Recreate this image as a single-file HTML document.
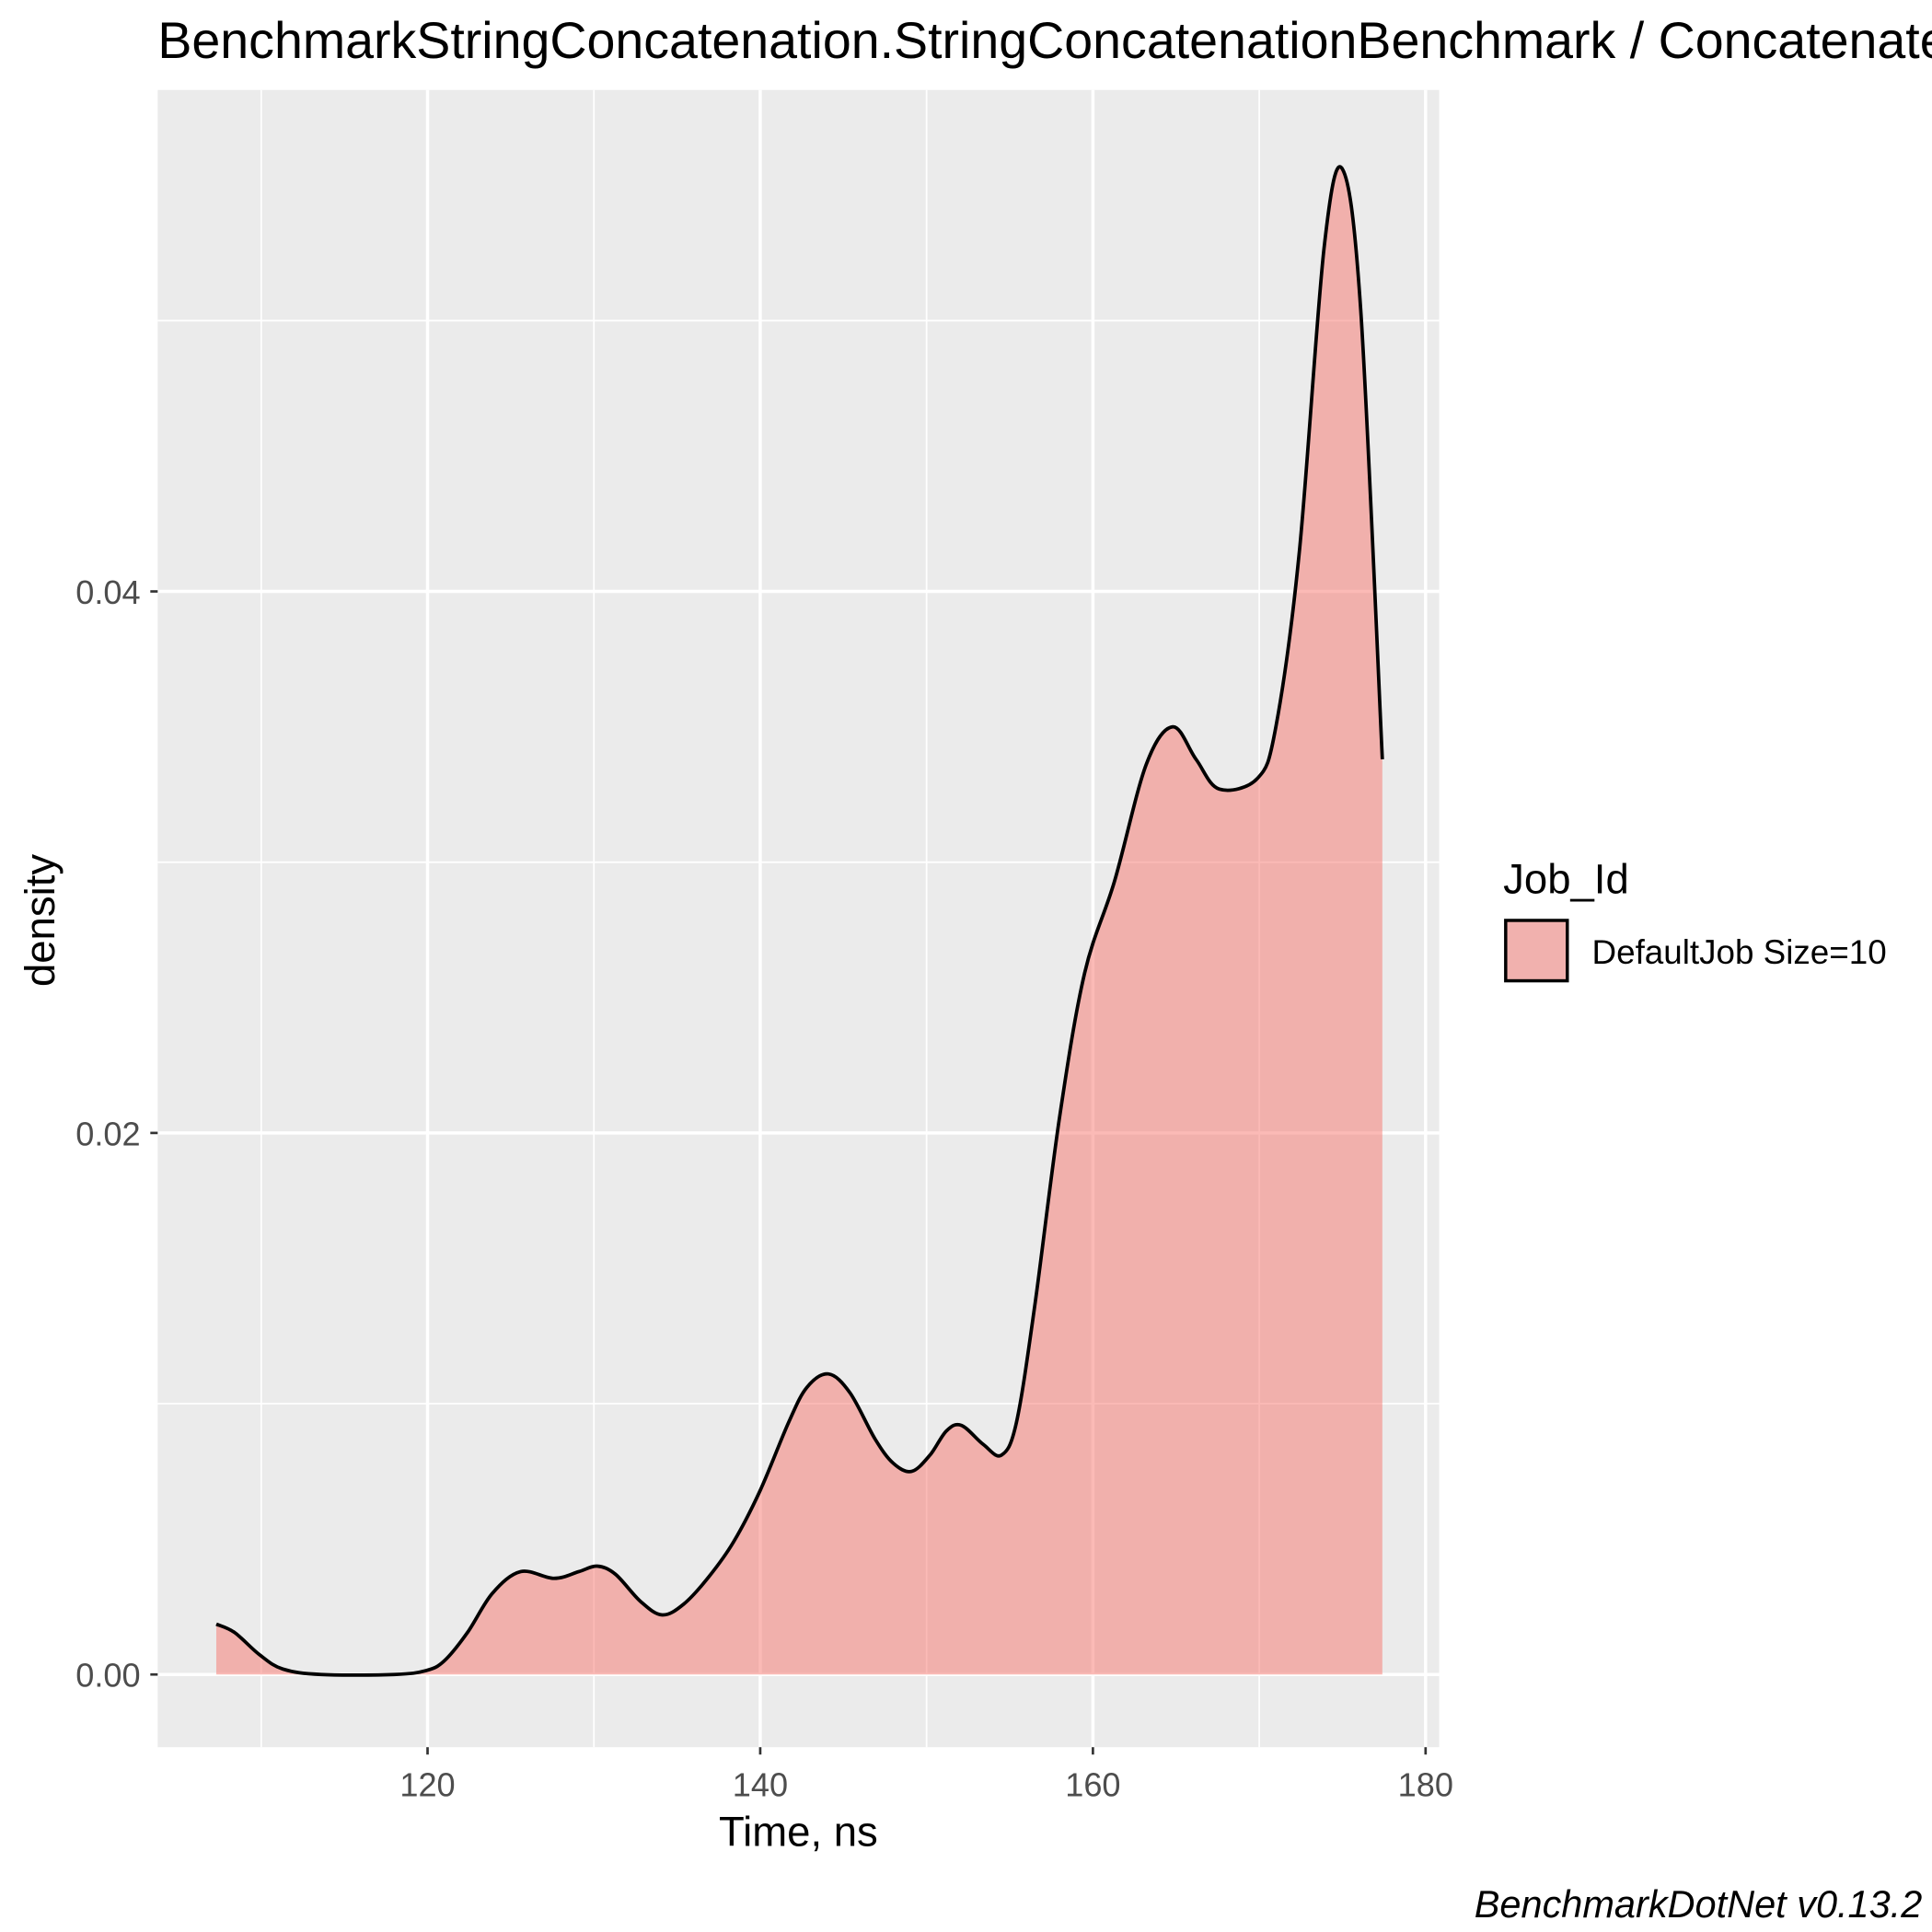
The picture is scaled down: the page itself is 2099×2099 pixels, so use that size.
<!DOCTYPE html>
<html><head><meta charset="utf-8"><style>
html,body{margin:0;padding:0;background:#fff;overflow:hidden}
svg{display:block;font-family:"Liberation Sans",Arial,sans-serif}
</style></head><body>
<svg id="chart" width="2099" height="2099" viewBox="0 0 1568 1568" xmlns="http://www.w3.org/2000/svg">
<text x="128" y="47" font-size="41.5" fill="#000">BenchmarkStringConcatenation.StringConcatenationBenchmark / ConcatenateStrings</text>
<rect x="128" y="73" width="1040" height="1345" fill="#ebebeb"/>
<g id="grid"></g>
<g id="series"></g>
<g id="axes"></g>
<text x="648" y="1498" font-size="34" text-anchor="middle">Time, ns</text>
<text transform="translate(44,747) rotate(-90)" font-size="34" text-anchor="middle">density</text>
<g>
<text x="1220" y="725" font-size="34">Job_Id</text>
<rect x="1222" y="747" width="50" height="49" fill="#f1b1ae" stroke="#000" stroke-width="2.6"/>
<text x="1292" y="782" font-size="27.5">DefaultJob Size=10</text>
</g>
<text x="1560" y="1556" font-size="31" font-style="italic" text-anchor="end">BenchmarkDotNet v0.13.2</text>
</svg>
<script>
const xs=[107.3,108.4,109.9,111.3,113.6,118,119.9,121,122.4,123.9,125.6,127.6,129.1,130.2,131.3,132.8,134.1,135.4,136.9,138.4,140,141.7,142.8,144.1,145.4,146.9,148,149.1,150.2,151.2,152.1,153.4,154.5,155.4,156.5,158,159.5,161.3,163.2,164.8,166.2,167.6,169.9,171,172.4,173.9,175,176.1,177.4];
const ys=[0.00186,0.00155,0.00073,0.0002,0,0,0.00014,0.0005,0.00155,0.003,0.0038,0.00355,0.0038,0.004,0.0037,0.0027,0.0022,0.0026,0.0036,0.0049,0.0068,0.0093,0.0106,0.0111,0.0104,0.0087,0.0078,0.0075,0.0081,0.009,0.0092,0.0085,0.0081,0.0093,0.0136,0.0206,0.0259,0.0293,0.0336,0.035,0.0338,0.0327,0.0331,0.035,0.0414,0.0527,0.0556,0.0504,0.0338];
const xMajor=[120,140,160,180];
const xMinor=[110,130,150,170];
const yMajor=[0,0.02,0.04];
const yMinor=[0.01,0.03,0.05];
const xLabels=["120","140","160","180"];
const yLabels=["0.00","0.02","0.04"];
const X=v=>347+(v-120)*13.5;
const Y=v=>1359-v*21975;
const NS="http://www.w3.org/2000/svg";
function mk(t,a,p){const e=document.createElementNS(NS,t);for(const k in a)e.setAttribute(k,a[k]);p.appendChild(e);return e;}
const g=document.getElementById('grid'),ax=document.getElementById('axes'),s=document.getElementById('series');
xMinor.forEach(v=>{const l=mk('line',{x1:X(v),x2:X(v),y1:73,y2:1418,stroke:'#fff','stroke-width':1.3},g);

});
yMinor.forEach(v=>{const l=mk('line',{x1:128,x2:1168,y1:Y(v),y2:Y(v),stroke:'#fff','stroke-width':1.3},g);

});
xMajor.forEach((v,i)=>{const l=mk('line',{x1:X(v),x2:X(v),y1:73,y2:1418,stroke:'#fff','stroke-width':2.6},g);


const t=mk('line',{x1:X(v),x2:X(v),y1:1418,y2:1424,stroke:'#333','stroke-width':2},ax);


const tx=mk('text',{x:X(v),y:1458,'font-size':27,fill:'#4d4d4d','text-anchor':'middle'},ax);tx.textContent=xLabels[i];

});
yMajor.forEach((v,i)=>{const l=mk('line',{x1:128,x2:1168,y1:Y(v),y2:Y(v),stroke:'#fff','stroke-width':2.6},g);


const t=mk('line',{x1:122,x2:128,y1:Y(v),y2:Y(v),stroke:'#333','stroke-width':2},ax);


const tx=mk('text',{x:114,y:Y(v)+10,'font-size':27,fill:'#4d4d4d','text-anchor':'end'},ax);tx.textContent=yLabels[i];

});
const P=xs.map((v,i)=>[X(v),Y(ys[i])]);
let d='M'+P[0][0]+','+P[0][1];
for(let i=0;i<P.length-1;i++){const p0=P[Math.max(i-1,0)],p1=P[i],p2=P[i+1],p3=P[Math.min(i+2,P.length-1)];
d+=' C'+(p1[0]+(p2[0]-p0[0])/6)+','+(p1[1]+(p2[1]-p0[1])/6)+' '+(p2[0]-(p3[0]-p1[0])/6)+','+(p2[1]-(p3[1]-p1[1])/6)+' '+p2[0]+','+p2[1];}
const area=mk('path',{d:d+' L'+P[P.length-1][0]+','+Y(0)+' L'+P[0][0]+','+Y(0)+'Z',fill:'rgba(248,118,109,0.5)'},s);


const line=mk('path',{d:d,fill:'none',stroke:'#000','stroke-width':2.8,'stroke-linejoin':'round'},s);


</script>
</body></html>
